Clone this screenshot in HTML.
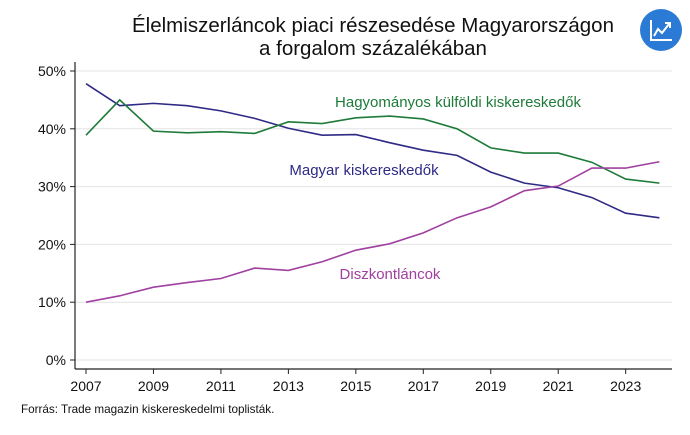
<!DOCTYPE html>
<html><head><meta charset="utf-8"><style>
html,body{margin:0;padding:0;background:#fff;}
svg text{font-family:"Liberation Sans",sans-serif;}
</style></head><body>
<svg id="c" width="690" height="430" viewBox="0 0 690 430" xmlns="http://www.w3.org/2000/svg">
<rect width="690" height="430" fill="#fff"/>
<text x="373" y="32" font-size="20.5" text-anchor="middle" fill="#111">Élelmiszerláncok piaci részesedése Magyarországon</text>
<text x="373" y="55" font-size="20.5" text-anchor="middle" fill="#111">a forgalom százalékában</text>
<circle cx="661" cy="30" r="21" fill="#2b7bd6"/>
<path d="M651 20 V40 H672" stroke="#fff" stroke-width="2" fill="none"/>
<path d="M654 36 L658 29 L662 33 L669 24" stroke="#fff" stroke-width="2" fill="none"/>
<path d="M665 23 H670 V28" stroke="#fff" stroke-width="2" fill="none"/>
<g id="grid"></g>
<line x1="75" y1="62" x2="75" y2="369" stroke="#222" stroke-width="1.2"/>
<line x1="75" y1="369" x2="672" y2="369" stroke="#222" stroke-width="1.2"/>
<g id="series"></g>
<text x="458" y="107" font-size="15" text-anchor="middle" fill="#1e7b3a">Hagyományos külföldi kiskereskedők</text>
<text x="364" y="175" font-size="15" text-anchor="middle" fill="#2e2a85">Magyar kiskereskedők</text>
<text x="390" y="279" font-size="15" text-anchor="middle" fill="#a040a0">Diszkontláncok</text>
<text x="21" y="413" font-size="11.7" fill="#111">Forrás: Trade magazin kiskereskedelmi toplisták.</text>
</svg>
<script>
var ns="http://www.w3.org/2000/svg",g=document.getElementById("grid"),s=document.getElementById("series");
function y(v){return 360-v*5.78;}function x(yr){return 86+(yr-2007)*33.73;}
function el(t,a,p){var e=document.createElementNS(ns,t);for(var k in a)e.setAttribute(k,a[k]);p.appendChild(e);return e;}
for(var i=0;i<=5;i++){var yy=y(i*10);
 el("line",{x1:75,x2:672,y1:yy,y2:yy,stroke:"#e4e4e4","stroke-width":1},g);
 el("line",{x1:70,x2:75,y1:yy,y2:yy,stroke:"#222"},g);
 el("text",{x:66,y:yy+5,"font-size":14,"text-anchor":"end",fill:"#111"},g).textContent=(i*10)+"%";}
for(var yr=2007;yr<=2023;yr+=2){var xx=x(yr);
 el("line",{x1:xx,x2:xx,y1:369,y2:374,stroke:"#222"},g);
 el("text",{x:xx,y:391,"font-size":14,"text-anchor":"middle",fill:"#111"},g).textContent=yr;}
var D=[["#2e2a85",[47.8,44,44.4,44,43.1,41.8,40.1,38.9,39,37.6,36.3,35.4,32.5,30.6,29.8,28.1,25.4,24.6]],
["#1e7b3a",[38.9,45,39.6,39.3,39.5,39.2,41.2,40.9,41.9,42.2,41.7,40,36.7,35.8,35.8,34.2,31.3,30.6]],
["#a040a0",[10,11.1,12.6,13.4,14.1,15.9,15.5,17,19,20.1,22,24.6,26.5,29.3,30.1,33.2,33.2,34.3]]];
D.forEach(function(d){el("polyline",{points:d[1].map(function(v,i){return x(2007+i)+","+y(v)}).join(" "),fill:"none",stroke:d[0],"stroke-width":1.6},s);});
</script>
</body></html>
